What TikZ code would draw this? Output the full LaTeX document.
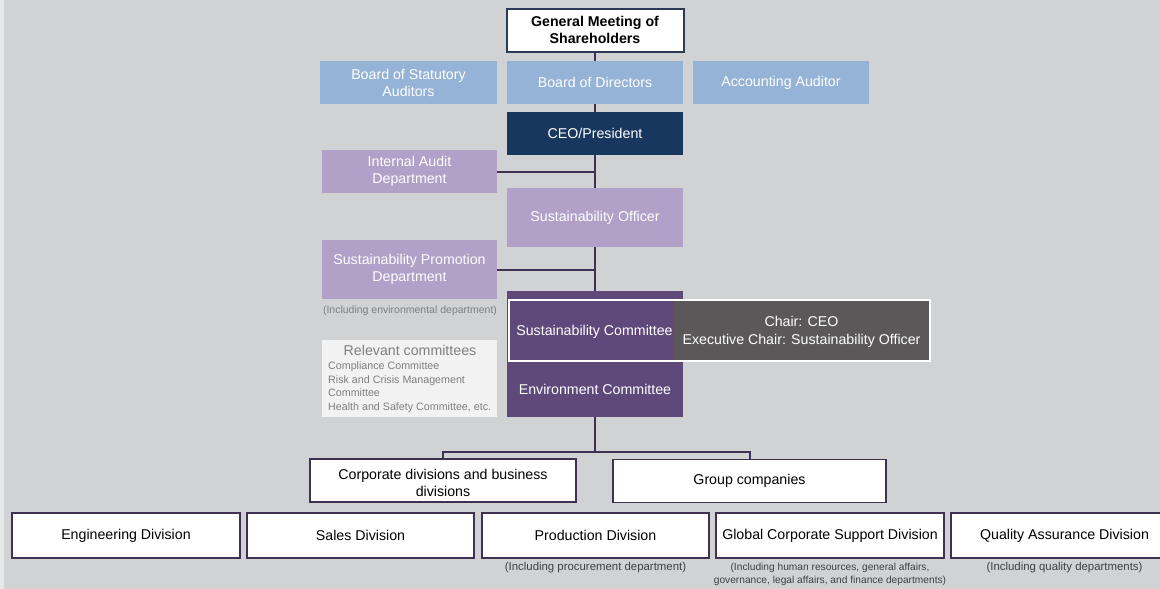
\documentclass[tikz,border=0pt]{standalone}
\usepackage{fontspec}
\setmainfont{Liberation Sans}
\usetikzlibrary{backgrounds}
\definecolor{pagegray}{HTML}{D1D2D4}
\definecolor{stripgray}{HTML}{E6E7E8}
\definecolor{skyblue}{HTML}{95B3D7}
\definecolor{navy}{HTML}{17375E}
\definecolor{navyline}{HTML}{2B3A55}
\definecolor{lavender}{HTML}{B1A0C7}
\definecolor{plum}{HTML}{5F497A}
\definecolor{plumline}{HTML}{3F3151}
\definecolor{charcoal}{HTML}{5A5859}
\definecolor{paper}{HTML}{F2F2F2}
\definecolor{notegray}{HTML}{7F7F7F}
\definecolor{subgray}{HTML}{404040}
\begin{document}
\begin{tikzpicture}[x=1pt,y=-1pt,
  box/.style={rectangle, inner sep=0pt, align=center,
    font=\fontsize{14.2}{17}\selectfont},
  bluebox/.style={box, fill=skyblue, text=white},
  navybox/.style={box, fill=navy, text=white},
  lavbox/.style={box, fill=lavender, text=white},
  plumbox/.style={box, fill=plum, text=white},
  whitebox/.style={box, fill=white, draw=plumline, line width=1.8pt, text=black},
  note/.style={inner sep=0pt, align=center, text=subgray,
    font=\fontsize{10.5}{13}\selectfont},
  bignote/.style={note, font=\fontsize{11.4}{13}\selectfont},
  conn/.style={draw=plumline, line width=2pt}]
\useasboundingbox (0,0) rectangle (1160,589);
\clip (0,0) rectangle (1160,589);
\begin{scope}[on background layer]
  \fill[stripgray] (0,0) rectangle (4,589);
  \fill[pagegray] (4,0) rectangle (1160,589);
\end{scope}

% governance at the top
\node[box, fill=white, draw=navyline, line width=2pt, font=\fontsize{14.2}{17}\selectfont\bfseries,
  minimum width=177, minimum height=43] (gm) at (595,30) {General Meeting of\\Shareholders};
\node[bluebox, minimum width=177, minimum height=43] (bsa) at (408.5,82.5) {Board of Statutory\\Auditors};
\node[bluebox, minimum width=176, minimum height=43] (bod) at (595,82.5) {Board of Directors};
\node[bluebox, minimum width=176, minimum height=43] (aa) at (781,82.5) {Accounting Auditor};
\node[navybox, minimum width=176, minimum height=43] (ceo) at (595,133.5) {CEO/President};

% sustainability line
\node[lavbox, minimum width=175, minimum height=43] (iad) at (409.5,171.5) {Internal Audit\\Department};
\node[lavbox, minimum width=176, minimum height=59] (so) at (595,217.5) {Sustainability Officer};
\node[lavbox, minimum width=175, minimum height=59] (spd) at (409.5,269.5) {Sustainability Promotion\\Department};
\node[note, text=notegray] (spdnote) at (410,310.5) {(Including environmental department)};

% committees
\node[plumbox, minimum width=176, minimum height=126] (comm) at (595,354) {};
\node[plumbox, minimum width=165, minimum height=61] (sc) at (591.5,330.5) {};
\node[box, text=white] (sctext) at (594.5,331.5) {Sustainability Committee};
\node[box, fill=charcoal, text=white, minimum width=256, minimum height=61] (chair) at (802,330.5) {};
\node[box, text=white, font=\fontsize{14.2}{18}\selectfont] (chairtext) at (801.5,332)
  {Chair: CEO\\Executive Chair: Sustainability Officer};
\draw[white, line width=2pt] (sc.north west) rectangle (chair.south east);
\node[box, text=white] (envc) at (595,389.5) {Environment Committee};

\node[box, fill=paper, minimum width=175, minimum height=77] (relc) at (409.5,378.5) {};
\node[box, text=notegray, font=\fontsize{14.2}{16}\selectfont] (reltitle) at (410,350.5) {Relevant committees};
\node[inner sep=0pt, anchor=north west, align=left, text=notegray,
  font=\fontsize{10.7}{13.7}\selectfont] (relitems) at (328,361.5)
  {Compliance Committee\\Risk and Crisis Management\\Committee\\Health and Safety Committee, etc.};

% divisions and companies
\coordinate (branch) at (595,452);
\node[whitebox, minimum width=266, minimum height=43] (corp) at (443,480.5) {};
\node[box] (corptext) at (443,482.5) {Corporate divisions and business\\divisions};
\node[whitebox, minimum width=273, minimum height=43] (grp) at (749.5,481) {Group companies};

\node[whitebox, minimum width=228, minimum height=45] (eng) at (126,535.5) {Engineering Division};
\node[whitebox, minimum width=227, minimum height=45] (sales) at (360.5,535.5) {Sales Division};
\node[whitebox, minimum width=227, minimum height=45] (prod) at (595.5,535.5) {Production Division};
\node[whitebox, minimum width=228, minimum height=45] (glob) at (830,535.5) {Global Corporate Support Division};
\node[whitebox, minimum width=227, minimum height=45] (qa) at (1064.5,535.5) {Quality Assurance Division};

\node[bignote] (prodnote) at (595.5,567.5) {(Including procurement department)};
\node[note, font=\fontsize{10.2}{13}\selectfont] (globnote) at (830,574.5) {(Including human resources, general affairs,\\governance, legal affairs, and finance departments)};
\node[bignote] (qanote) at (1064.5,567.5) {(Including quality departments)};

% reporting lines
\begin{scope}[on background layer]
  \draw[conn] (gm.south) -- (bod.north);
  \draw[conn] (bod.south) -- (ceo.north);
  \draw[conn] (ceo.south) -- (so.north);
  \draw[conn] (so.south) -- (comm.north);
  \draw[conn] (comm.south) -- (branch);
  \draw[conn] (iad.east) -- (iad.east -| ceo.south);
  \draw[conn] (spd.east) -- (spd.east -| so.south);
  \draw[conn] (branch) -| (corp.north);
  \draw[conn] (branch) -| (grp.north);
\end{scope}
\end{tikzpicture}
\end{document}
